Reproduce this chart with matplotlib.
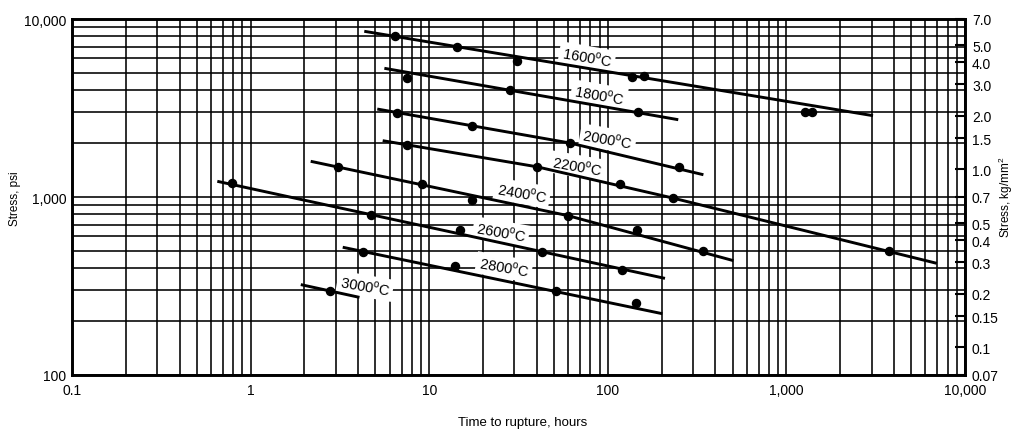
import numpy as np
import matplotlib
matplotlib.use("Agg")
import matplotlib.pyplot as plt
from matplotlib.ticker import LogLocator, NullFormatter, FixedLocator, FixedFormatter

plt.rcParams["font.family"] = ["Liberation Sans", "DejaVu Sans"]
plt.rcParams["mathtext.fontset"] = "custom"
plt.rcParams["mathtext.rm"] = "Liberation Sans"

# Measured points (hours, psi) for each test temperature
t1600_hours = [6.43, 14.4, 30.9, 136, 160, 1271, 1390]
t1600_psi = [8060, 6960, 5830, 4700, 4770, 2990, 3020]
t1800_hours = [7.48, 28.3, 147]
t1800_psi = [4660, 3990, 3015]
t2000_hours = [6.6, 17.4, 61.4, 250]
t2000_psi = [2965, 2495, 2010, 1469]
t2200_hours = [7.54, 40.0, 117, 231, 3752]
t2200_psi = [1967, 1479, 1183, 987, 495]
t2400_hours = [3.10, 9.08, 17.3, 60.1, 145, 343]
t2400_psi = [1468, 1183, 966, 785, 653, 495]
t2600_hours = [0.783, 4.75, 14.9, 42.7, 120]
t2600_psi = [1202, 797, 653, 489, 391]
t2800_hours = [4.24, 13.9, 51, 144]
t2800_psi = [493, 407, 298, 253]
t3000_hours = [2.80]
t3000_psi = [296]

# Drawn trend lines (hours, psi)
fit1600_hours = [4.33, 3055]
fit1600_psi = [8530, 2863]
fit1800_hours = [5.61, 248]
fit1800_psi = [5285, 2718]
fit2000_hours = [5.12, 61.4, 343]
fit2000_psi = [3120, 2010, 1334]
fit2200_hours = [5.49, 40.0, 231, 6950]
fit2200_psi = [2072, 1479, 987, 424]
fit2400_hours = [2.17, 60.1, 505]
fit2400_psi = [1587, 785, 439]
fit2600_hours = [0.651, 209]
fit2600_psi = [1225, 349]
fit2800_hours = [3.28, 202]
fit2800_psi = [522, 221]
fit3000_hours = [1.91, 4.07]
fit3000_psi = [322, 273]

temps = [1600, 1800, 2000, 2200, 2400, 2600, 2800, 3000]
label_hours = [76.5, 89.3, 100, 67.2, 33.1, 25.2, 26.2, 4.37]
label_psi = [6115, 3741, 2117, 1493, 1053, 636, 404, 316]

x_ticks = [0.1, 1, 10, 100, 1000, 10000]
x_ticklabels = ["0.1", "1", "10", "100", "1,000", "10,000"]
y_ticks = [100, 1000, 10000]
y_ticklabels = ["100", "1,000", "10,000"]
kg_ticks = [7.0, 5.0, 4.0, 3.0, 2.0, 1.5, 1.0, 0.7, 0.5, 0.4, 0.3, 0.2, 0.15, 0.1, 0.07]
kg_ticklabels = ["7.0", "5.0", "4.0", "3.0", "2.0", "1.5", "1.0", "0.7",
                 "0.5", "0.4", "0.3", "0.2", "0.15", "0.1", "0.07"]
psi_to_kg = 0.0007

points = [(t1600_hours, t1600_psi), (t1800_hours, t1800_psi), (t2000_hours, t2000_psi),
          (t2200_hours, t2200_psi), (t2400_hours, t2400_psi), (t2600_hours, t2600_psi),
          (t2800_hours, t2800_psi), (t3000_hours, t3000_psi)]
fits = [(fit1600_hours, fit1600_psi), (fit1800_hours, fit1800_psi), (fit2000_hours, fit2000_psi),
        (fit2200_hours, fit2200_psi), (fit2400_hours, fit2400_psi), (fit2600_hours, fit2600_psi),
        (fit2800_hours, fit2800_psi), (fit3000_hours, fit3000_psi)]

fig = plt.figure(figsize=(10.16, 4.31), dpi=100)
ax = fig.add_axes([72 / 1016, 55 / 431, 893 / 1016, 356 / 431])
ax.set_xscale("log")
ax.set_yscale("log")
ax.set_xlim(0.1, 10000)
ax.set_ylim(100, 10000)

# graph paper grid
ax.xaxis.set_major_locator(FixedLocator(x_ticks))
ax.xaxis.set_major_formatter(FixedFormatter(x_ticklabels))
ax.yaxis.set_major_locator(FixedLocator(y_ticks))
ax.yaxis.set_major_formatter(FixedFormatter(y_ticklabels))
ax.xaxis.set_minor_locator(LogLocator(base=10, subs=np.arange(2, 10)))
ax.yaxis.set_minor_locator(LogLocator(base=10, subs=np.arange(2, 10)))
ax.xaxis.set_minor_formatter(NullFormatter())
ax.yaxis.set_minor_formatter(NullFormatter())
ax.grid(True, which="both", color="black", lw=1.15)
ax.set_axisbelow(True)
ax.tick_params(which="both", length=0, labelsize=10)
ax.tick_params(axis="x", pad=6)
ax.tick_params(axis="y", pad=4)
for s in ax.spines.values():
    s.set_linewidth(1.9)

for (fx, fy), (px, py) in zip(fits, points):
    ax.plot(fx, fy, color="black", lw=2.1, zorder=5, solid_capstyle="butt")
    ax.plot(px, py, "o", color="black", ms=5.8, zorder=6)

for t, lx, ly in zip(temps, label_hours, label_psi):
    ax.text(lx, ly, f"{t}$^{{\\rm o}}$C", fontsize=10.5, rotation=-10,
            ha="center", va="center", zorder=4,
            bbox=dict(facecolor="white", edgecolor="none", pad=2))

# right-hand scale in kg/mm2
ax2 = ax.twinx()
ax2.set_yscale("log")
ax2.set_ylim(100 * psi_to_kg, 10000 * psi_to_kg)
ax2.yaxis.set_major_locator(FixedLocator(kg_ticks))
ax2.yaxis.set_major_formatter(FixedFormatter(kg_ticklabels))
ax2.yaxis.set_minor_locator(FixedLocator([]))
ax2.tick_params(axis="y", direction="in", length=7, width=1.5, labelsize=10, pad=5)
for s in ax2.spines.values():
    s.set_linewidth(1.9)

fig.text(15 / 1016, 1 - 199 / 431, "Stress, psi", rotation=90, fontsize=8.5,
         ha="center", va="center")
fig.text(1006 / 1016, 1 - 197 / 431, "Stress, kg/mm$^2$", rotation=90, fontsize=8.5,
         ha="center", va="center")
fig.text(523 / 1016, 1 - 423 / 431, "Time to rupture, hours", fontsize=9.5,
         ha="center", va="center")

fig.savefig("out.png", dpi=100)
